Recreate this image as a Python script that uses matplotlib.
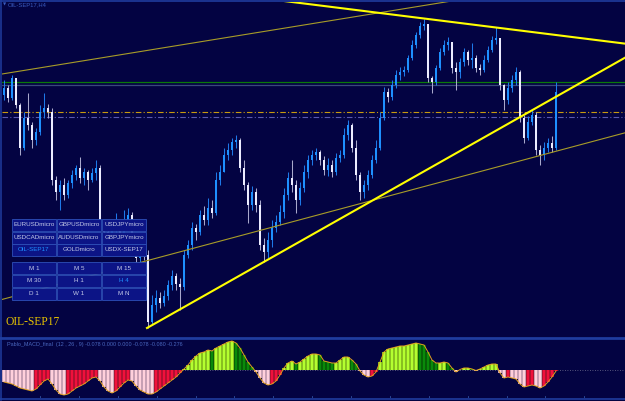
import numpy as np
import matplotlib
matplotlib.use("Agg")
import matplotlib.pyplot as plt
from matplotlib.patches import Rectangle

# ---------------- data ----------------
first_open = 48.63
closes = [48.80, 48.55, 49.05, 48.38, 47.30, 48.05, 47.88, 47.50, 47.70, 48.20,
          48.30, 48.20, 46.50, 46.20, 46.38, 46.13, 46.43, 46.63, 46.80, 46.55,
          46.70, 46.50, 46.68, 46.80, 45.45, 45.20, 45.00, 45.25, 45.38, 45.13,
          45.45, 45.63, 45.05, 44.55, 44.80, 44.63, 42.95, 43.38, 43.55, 43.43,
          43.60, 43.88, 44.10, 43.90, 43.83, 44.63, 44.88, 45.30, 45.20, 45.63,
          45.50, 45.80, 45.68, 46.50, 46.70, 47.13, 47.25, 47.45, 47.50, 46.80,
          46.38, 45.88, 46.20, 45.88, 44.88, 44.70, 45.00, 45.30, 45.45, 45.70,
          46.13, 46.55, 46.38, 46.00, 46.30, 46.70, 47.00, 47.13, 47.20, 47.00,
          46.75, 46.88, 46.70, 47.05, 47.13, 47.63, 47.88, 47.30, 46.63, 46.20,
          46.38, 46.63, 47.00, 47.30, 48.05, 48.70, 48.58, 48.88, 49.13, 49.20,
          49.25, 49.55, 49.88, 50.13, 50.35, 50.40, 49.05, 48.95, 49.30, 49.70,
          49.88, 49.95, 49.30, 49.20, 49.45, 49.70, 49.50, 49.55, 49.30, 49.25,
          49.50, 49.75, 50.00, 50.05, 48.88, 48.50, 48.80, 49.00, 49.20, 48.05,
          47.55, 47.95, 48.13, 47.25, 47.13, 47.30, 47.43, 47.30, 48.70]
highs = [49.00, 48.88, 49.13, 49.05, 48.43, 48.20, 48.68, 47.95, 47.80, 48.38,
         48.68, 48.40, 48.30, 46.60, 46.50, 46.55, 46.50, 46.75, 46.88, 47.08,
         46.80, 46.75, 46.80, 47.00, 46.88, 45.50, 45.30, 45.38, 45.68, 45.45,
         45.75, 45.80, 45.70, 45.13, 45.00, 44.90, 44.75, 43.63, 43.75, 43.70,
         43.75, 44.00, 44.25, 44.18, 44.05, 44.75, 45.00, 45.45, 45.40, 45.75,
         45.85, 46.05, 46.00, 46.70, 46.88, 47.30, 47.43, 47.55, 47.63, 47.55,
         47.00, 46.45, 46.35, 46.30, 46.00, 45.05, 45.20, 45.50, 45.63, 45.88,
         46.30, 46.70, 47.00, 46.50, 46.45, 46.88, 47.13, 47.25, 47.30, 47.25,
         47.10, 47.05, 47.00, 47.18, 47.25, 47.80, 48.00, 47.93, 47.50, 46.70,
         46.50, 46.75, 47.13, 47.50, 48.20, 48.83, 48.80, 49.00, 49.25, 49.33,
         49.35, 49.63, 50.00, 50.20, 50.45, 50.53, 50.40, 49.10, 49.38, 49.80,
         50.00, 50.08, 49.95, 49.45, 49.55, 49.80, 49.75, 49.93, 49.63, 49.40,
         49.63, 49.85, 50.10, 50.33, 50.05, 48.90, 48.95, 49.13, 49.33, 49.25,
         48.13, 48.10, 48.25, 48.20, 47.38, 47.45, 47.55, 47.60, 48.95]
lows = [48.50, 48.45, 48.50, 48.30, 47.13, 47.25, 47.75, 47.30, 47.38, 47.63,
        48.05, 48.05, 46.38, 46.00, 45.75, 46.00, 46.05, 46.30, 46.50, 46.43,
        46.38, 46.25, 46.45, 46.50, 45.30, 45.00, 44.75, 44.88, 45.13, 44.95,
        45.05, 45.38, 44.88, 44.43, 44.45, 44.50, 42.80, 42.88, 43.20, 43.30,
        43.35, 43.50, 43.75, 43.75, 43.25, 43.75, 44.55, 44.75, 45.00, 45.13,
        45.38, 45.38, 45.55, 45.63, 46.38, 46.70, 47.00, 47.13, 47.30, 46.70,
        46.25, 45.43, 45.75, 45.70, 44.75, 44.45, 44.55, 44.83, 45.20, 45.38,
        45.55, 46.00, 46.20, 45.68, 45.88, 46.20, 46.55, 46.88, 47.00, 46.88,
        46.63, 46.60, 46.58, 46.63, 46.95, 47.05, 47.50, 47.20, 46.50, 46.00,
        46.05, 46.25, 46.55, 46.93, 47.25, 48.00, 48.45, 48.50, 48.80, 49.00,
        49.10, 49.20, 49.50, 49.80, 50.05, 50.25, 48.95, 48.68, 48.88, 49.25,
        49.63, 49.75, 49.18, 48.75, 49.05, 49.35, 49.38, 49.30, 49.20, 49.13,
        49.20, 49.45, 49.70, 49.90, 48.75, 48.25, 48.40, 48.70, 48.88, 47.95,
        47.43, 47.50, 47.88, 47.13, 46.88, 47.00, 47.20, 47.20, 47.25]
macd_hist = [-0.12, -0.13, -0.14, -0.16, -0.18, -0.19, -0.20, -0.21, -0.19, -0.15,
             -0.11, -0.09, -0.14, -0.20, -0.24, -0.25, -0.24, -0.21, -0.18, -0.16,
             -0.14, -0.11, -0.08, -0.07, -0.11, -0.17, -0.21, -0.23, -0.21, -0.17,
             -0.13, -0.10, -0.11, -0.16, -0.20, -0.22, -0.24, -0.24, -0.22, -0.19,
             -0.16, -0.13, -0.10, -0.07, -0.03, 0.01, 0.05, 0.10, 0.14, 0.17,
             0.18, 0.20, 0.19, 0.22, 0.24, 0.26, 0.28, 0.29, 0.27, 0.22,
             0.15, 0.08, 0.03, -0.02, -0.08, -0.13, -0.15, -0.14, -0.11, -0.05,
             0.02, 0.07, 0.09, 0.06, 0.08, 0.11, 0.14, 0.16, 0.16, 0.15,
             0.09, 0.08, 0.07, 0.07, 0.10, 0.13, 0.13, 0.10, 0.06, -0.01,
             -0.05, -0.07, -0.06, -0.02, 0.08, 0.18, 0.21, 0.22, 0.23, 0.24,
             0.24, 0.25, 0.26, 0.27, 0.26, 0.25, 0.18, 0.10, 0.07, 0.07,
             0.08, 0.07, 0.02, -0.02, 0.005, 0.02, 0.02, 0.01, -0.005, 0.01,
             0.03, 0.05, 0.06, 0.06, -0.03, -0.08, -0.07, -0.08, -0.09, -0.14,
             -0.17, -0.16, -0.15, -0.16, -0.18, -0.16, -0.12, -0.07, -0.01]

# trend lines: (bar index pair, price pair)
trend_thin_upper_x, trend_thin_upper_y = [-0.5, 119.0], [49.15, 51.09]
trend_resist_x, trend_resist_y = [64.0, 156.0], [51.05, 49.90]
trend_support_x, trend_support_y = [35.75, 156.0], [42.80, 49.60]
trend_thin_lower_x, trend_thin_lower_y = [-1.0, 156.0], [43.50, 47.70]
levels_solid = [48.95, 48.875]
levels_dashdot = [48.20, 48.075]

symbol_buttons = [["EURUSDmicro", "GBPUSDmicro", "USDJPYmicro"],
                  ["USDCADmicro", "AUDUSDmicro", "GBPJPYmicro"],
                  ["OIL-SEP17", "GOLDmicro", "USDX-SEP17"]]
tf_buttons = [["M 1", "M 5", "M 15"],
              ["M 30", "H 1", "H 4"],
              ["D 1", "W 1", "M N"]]
active_labels = ["OIL-SEP17", "H 4"]
chart_title = "OIL-SEP17"
window_title = "OIL-SEP17,H4"
macd_caption = "Pablo_MACD_final  (12 , 26 , 9) -0.078 0.000 0.000 -0.078 -0.080 -0.276"

# ---------------- styling ----------------
BG = "#030342"
BORDER = "#1f3c9e"
W, H = 625, 401

fig = plt.figure(figsize=(W / 100, H / 100), dpi=100, facecolor=BG)


def fx(x):
    return x / W


def fy(y):
    return 1 - y / H


ax = fig.add_axes([fx(2), fy(337), (W - 2) / W, 335 / H], facecolor=BG)
ax2 = fig.add_axes([fx(2), fy(398), (W - 2) / W, 58 / H], facecolor=BG)

n = len(closes)
xs = np.arange(n)
opens = [first_open] + closes[:-1]

for a in (ax, ax2):
    a.set_xlim(-0.5, 155.25)
    a.set_xticks([])
    a.set_yticks([])
    for s in a.spines.values():
        s.set_visible(False)
ax.set_ylim(42.575, 50.95)
ax2.set_ylim(-0.28, 0.30)

# horizontal levels
ax.axhline(levels_solid[0], color="#0a7a0a", lw=0.9, zorder=1)
ax.axhline(levels_solid[1], color="#3a4a7a", lw=0.9, zorder=1)
ax.axhline(levels_dashdot[0], color="#c89a10", lw=0.8, ls=(0, (5, 2, 1, 2)), zorder=1)
ax.axhline(levels_dashdot[1], color="#5a5ab0", lw=0.8, ls=(0, (5, 2, 1, 2)), zorder=1)

# candles
for i in xs:
    o, c, h, l = opens[i], closes[i], highs[i], lows[i]
    up = c >= o
    wick = "#1e78e8" if up else "#a8a8cc"
    body = "#1e90ff" if up else "#ececff"
    ax.vlines(i, l, h, color=wick, lw=0.75, zorder=3)
    hgt = c - o if abs(c - o) > 0.02 else 0.02
    ax.bar(i, hgt, bottom=o, width=0.62, color=body, linewidth=0, zorder=4)

# trend lines
ax.plot(trend_thin_upper_x, trend_thin_upper_y, color="#a89c28", lw=0.8, zorder=5)
ax.plot(trend_thin_lower_x, trend_thin_lower_y, color="#a89c28", lw=0.8, zorder=5)
ax.plot(trend_resist_x, trend_resist_y, color="#ffff00", lw=1.5, zorder=5)
ax.plot(trend_support_x, trend_support_y, color="#ffff00", lw=1.5, zorder=5)

# MACD histogram
bright, dark = [], []
for i, v in enumerate(macd_hist):
    prev = macd_hist[i - 1] if i > 0 else v
    if v >= 0:
        if v >= prev:
            bright.append("#b4ff30"); dark.append("#88c020")
        else:
            bright.append("#0a8a0a"); dark.append("#066006")
    else:
        if v <= prev:
            bright.append("#ffd0dc"); dark.append("#c8a0b4")
        else:
            bright.append("#f0103c"); dark.append("#b01030")
ax2.axhline(0, color="#707090", lw=0.6, ls=(0, (1, 2)), zorder=1)
ax2.bar(xs, macd_hist, width=1.0, color=dark, linewidth=0, zorder=2)
ax2.bar(xs, macd_hist, width=0.5, color=bright, linewidth=0, zorder=3)
ax2.plot(xs, macd_hist, color="#e0a020", lw=0.7, zorder=4)
for tx in np.arange(9, 150, 9.72):
    ax2.plot([tx, tx], [-0.28, -0.255], color="#3050a0", lw=0.6, zorder=5)

# borders / separators (figure pixel coordinates)
def hline_px(y, x0, x1, lw, color):
    fig.add_artist(plt.Line2D([fx(x0), fx(x1)], [fy(y), fy(y)], color=color, lw=lw))


def vline_px(x, y0, y1, lw, color):
    fig.add_artist(plt.Line2D([fx(x), fx(x)], [fy(y0), fy(y1)], color=color, lw=lw))


hline_px(0.8, 0, W, 1.2, BORDER)
hline_px(338, 0, W, 2.0, BORDER)
hline_px(399.3, 0, W, 1.2, BORDER)
vline_px(1.5, 0, 338, 1.1, BORDER)
vline_px(1.5, 338, 400, 1.1, BORDER)

# window caption text
fig.text(fx(3), fy(4.5), "\u25BC", fontsize=3, color="#3a5cc0", va="center", ha="left",
         family="DejaVu Sans")
fig.text(fx(8), fy(4.5), window_title, fontsize=4.2, color="#3a5cc0", va="center",
         ha="left", family="Liberation Sans")
fig.text(fx(7), fy(344.5), macd_caption, fontsize=3.9, color="#4a68c0", va="center",
         ha="left", family="Liberation Sans")
fig.text(fx(5), fy(322), chart_title, fontsize=8.3, color="#e8c400", va="center",
         ha="left", family="Liberation Serif")

# button panel
col_x = [(12, 56), (57, 101), (102, 146)]
rows_sym = [(219, 231), (232, 243.5), (244, 255.5)]
rows_tf = [(262, 274), (275, 287), (287.5, 299.5)]


def draw_buttons(labels, rows):
    for r, (y0, y1) in enumerate(rows):
        for c, (x0, x1) in enumerate(col_x):
            rect = Rectangle((fx(x0), fy(y1)), fx(x1 - x0), (y1 - y0) / H,
                             transform=fig.transFigure, facecolor="#0c1486",
                             edgecolor="#2e50b8", lw=0.6, zorder=10)
            fig.add_artist(rect)
            lab = labels[r][c]
            col = "#1e90ff" if lab in active_labels else "#c4cae8"
            fig.text(fx((x0 + x1) / 2), fy((y0 + y1) / 2), lab, fontsize=4.5,
                     color=col, ha="center", va="center", family="Liberation Sans",
                     zorder=11)


draw_buttons(symbol_buttons, rows_sym)
draw_buttons(tf_buttons, rows_tf)

fig.savefig("out.png", dpi=100, facecolor=BG)
